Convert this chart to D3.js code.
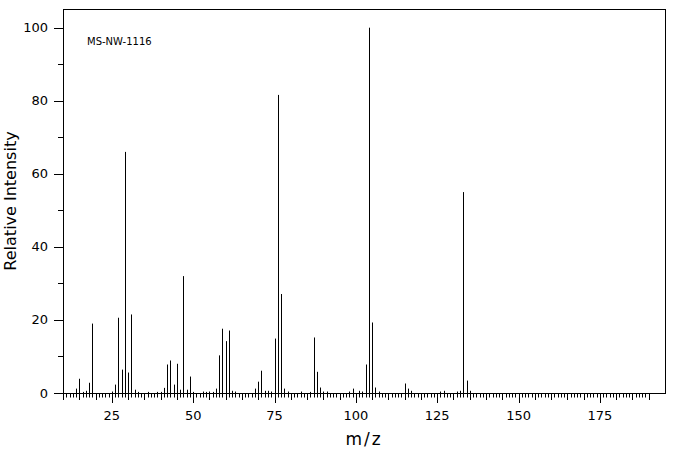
<!DOCTYPE html>
<html>
<head>
<meta charset="utf-8">
<script src="https://cdn.jsdelivr.net/npm/d3@7"></script>
<style>
    body { margin: 0; background: #fff; }
    text { font-family: "DejaVu Sans", sans-serif; fill: #000; }
</style>
</head>
<body>
<div id="main"></div>
<script>
// peaks
const mzValues = [14, 15, 16, 17, 18, 19, 25, 26, 27, 28, 29, 30, 31, 32, 33, 36, 39, 40,
    41, 42, 43, 44, 45, 46, 47, 48, 49, 50, 53, 54, 55, 56, 57, 58, 59, 60, 61, 62, 63,
    69, 70, 71, 72, 73, 74, 75, 76, 77, 78, 79, 83, 86, 87, 88, 89, 90, 91,
    98, 99, 101, 102, 103, 104, 105, 106, 107, 115, 116, 117, 126, 127, 131, 132, 133, 134, 135];
const intensities = [1.2, 3.9, 0.3, 0.6, 2.8, 19.0, 0.4, 2.3, 20.6, 6.4, 66.0, 5.6, 21.5, 0.9, 0.3, 0.3, 0.3, 0.3,
    1.4, 7.8, 8.9, 2.3, 8.0, 0.9, 32.0, 0.9, 4.5, 0.3, 0.4, 0.3, 0.4, 0.3, 1.2, 10.3, 17.6, 14.2, 17.1, 0.6, 0.4,
    1.2, 3.1, 6.1, 0.6, 0.6, 0.4, 14.9, 81.6, 27.1, 1.2, 0.4, 0.4, 0.3, 15.2, 5.8, 1.5, 0.4, 0.4,
    0.4, 1.2, 0.6, 0.4, 7.8, 100, 19.3, 1.5, 0.4, 2.6, 1.2, 0.6, 0.4, 0.6, 0.4, 0.6, 55.0, 3.4, 0.6];

const xTickLabels = [25, 50, 75, 100, 125, 150, 175];
const yTickLabels = [0, 20, 40, 60, 80, 100];
const sampleId = "MS-NW-1116";

const width = 676;
const height = 455;
const plotLeft = 63, plotRight = 665, plotTop = 9, plotBottom = 393;

const svg = d3
    .select("#main")
    .append("svg")
    .attr("width", width)
    .attr("height", height);

const x = d3.scaleLinear().domain([10, 195]).range([plotLeft, plotRight]);
const y = d3.scaleLinear().domain([0, 100]).range([plotBottom, 27.7]);

const peaks = mzValues.map((m, i) => ({ mz: m, value: intensities[i] }));

// frame
svg.append("rect")
    .attr("x", plotLeft + 0.5)
    .attr("y", plotTop + 0.5)
    .attr("width", plotRight - plotLeft)
    .attr("height", plotBottom - plotTop)
    .attr("fill", "none")
    .attr("stroke", "#000");

// x ticks: every 1, longer every 5, longest every 25
const xTicks = d3.range(10, 191);
svg.append("g")
    .selectAll("line")
    .data(xTicks)
    .join("line")
    .attr("x1", d => Math.round(x(d)) + 0.5)
    .attr("x2", d => Math.round(x(d)) + 0.5)
    .attr("y1", plotBottom)
    .attr("y2", d => plotBottom + (d % 25 === 0 ? 10 : d % 5 === 0 ? 7 : 4.5))
    .attr("stroke", "#000");

svg.append("g")
    .selectAll("text")
    .data(xTickLabels)
    .join("text")
    .attr("x", d => x(d))
    .attr("y", 420)
    .attr("text-anchor", "middle")
    .attr("font-size", 13)
    .text(d => d);

// y ticks: labelled every 20, minor every 10
const yTicks = d3.range(0, 101, 10);
svg.append("g")
    .selectAll("line")
    .data(yTicks)
    .join("line")
    .attr("x1", d => d % 20 === 0 ? plotLeft - 9 : plotLeft - 5)
    .attr("x2", plotLeft)
    .attr("y1", d => Math.round(y(d)) + 0.5)
    .attr("y2", d => Math.round(y(d)) + 0.5)
    .attr("stroke", "#000");

svg.append("g")
    .selectAll("text")
    .data(yTickLabels)
    .join("text")
    .attr("x", 48)
    .attr("y", d => y(d) + 4.5)
    .attr("text-anchor", "end")
    .attr("font-size", 13)
    .text(d => d);

// peaks
svg.append("g")
    .selectAll("line")
    .data(peaks)
    .join("line")
    .attr("x1", d => Math.round(x(d.mz)) + 0.5)
    .attr("x2", d => Math.round(x(d.mz)) + 0.5)
    .attr("y1", plotBottom)
    .attr("y2", d => y(d.value))
    .attr("stroke", "#000");

svg.append("text")
    .attr("x", 87)
    .attr("y", 44.5)
    .attr("font-family", "DejaVu Sans Mono")
    .attr("font-size", 10)
    .text(sampleId);

svg.append("text")
    .attr("x", 364)
    .attr("y", 445)
    .attr("text-anchor", "middle")
    .attr("font-size", 17)
    .attr("letter-spacing", 2)
    .text("m/z");

svg.append("text")
    .attr("transform", "translate(16,201) rotate(-90)")
    .attr("text-anchor", "middle")
    .attr("font-size", 16)
    .text("Relative Intensity");
</script>
</body>
</html>
